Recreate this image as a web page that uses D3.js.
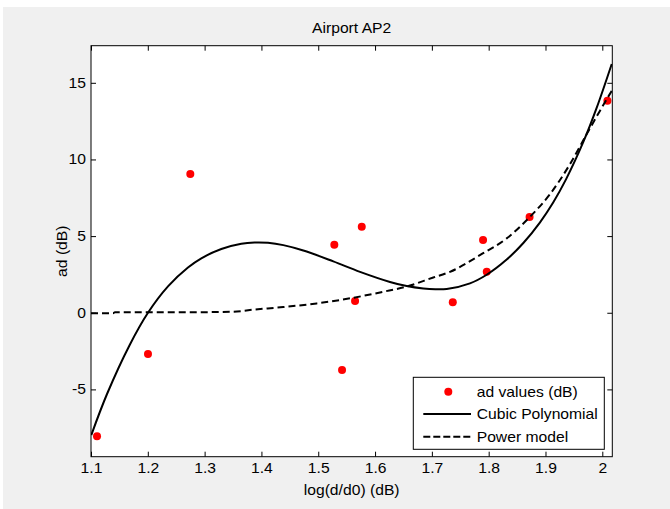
<!DOCTYPE html>
<html>
<head>
<meta charset="utf-8">
<script src="https://cdn.jsdelivr.net/npm/d3@7"></script>
<style>
  html, body { margin: 0; padding: 0; background: #ffffff; }
  svg { display: block; }
  text { font-family: "Liberation Sans", Arial, Helvetica, sans-serif; fill: #000; }
</style>
</head>
<body>
<script>
// ---- data ----
const pointX = [1.1106, 1.2003, 1.2748, 1.5283, 1.5419, 1.5648, 1.5766, 1.7368, 1.7901, 1.7966, 1.8720, 2.0090];
const pointY = [-8.06, -2.69, 9.05, 4.44, -3.74, 0.76, 5.61, 0.68, 4.74, 2.67, 6.24, 13.83];

const cubicX = [1.1005, 1.1282, 1.1681, 1.2003, 1.2355, 1.2707, 1.2942, 1.3294, 1.3646, 1.3880, 1.4116, 1.4385, 1.4737, 1.5265, 1.5735, 1.6263, 1.6557, 1.6849, 1.7060, 1.7261, 1.7671, 1.7965, 1.8317, 1.8610, 1.8904, 1.9138, 1.9361, 1.9666, 1.9902, 2.0166];
const cubicY = [-7.98, -5.30, -2.10, 0.00, 1.72, 2.95, 3.55, 4.16, 4.50, 4.58, 4.56, 4.41, 4.06, 3.35, 2.67, 2.01, 1.74, 1.58, 1.53, 1.55, 1.92, 2.48, 3.47, 4.55, 5.90, 7.21, 8.70, 11.14, 13.38, 16.23];

const powerX = [1.1000, 1.1387, 1.1422, 1.2500, 1.3464, 1.3882, 1.4385, 1.4973, 1.5559, 1.6145, 1.6557, 1.7025, 1.7319, 1.7895, 1.8317, 1.8722, 1.9080, 1.9432, 1.9726, 1.9960, 2.0166];
const powerY = [-0.04, -0.04, 0.03, 0.03, 0.06, 0.21, 0.37, 0.61, 0.94, 1.37, 1.71, 2.30, 2.67, 3.87, 4.85, 6.24, 7.74, 9.70, 11.66, 13.18, 14.48];

const xTicks = [1.1, 1.2, 1.3, 1.4, 1.5, 1.6, 1.7, 1.8, 1.9, 2.0];
const xTickLabels = ["1.1", "1.2", "1.3", "1.4", "1.5", "1.6", "1.7", "1.8", "1.9", "2"];
const yTicks = [-5, 0, 5, 10, 15];
const yTickLabels = ["-5", "0", "5", "10", "15"];

const titleText = "Airport AP2";
const xLabelText = "log(d/d0) (dB)";
const yLabelText = "ad (dB)";
const legendLabels = ["ad values (dB)", "Cubic Polynomial", "Power model"];

// ---- layout ----
const W = 670, H = 509;
const L = 91, R = 612.3, T = 45.7, B = 456.7;
const FS = 14, SX = 1.12;

const x = d3.scaleLinear().domain([1.1, 2.0176]).range([L, R]);
const y = d3.scaleLinear().domain([-9.39, 17.42]).range([B, T]);

const svg = d3.select("body").append("svg").attr("width", W).attr("height", H);

// figure background
svg.append("rect").attr("x", 3).attr("y", 7).attr("width", W - 3).attr("height", H - 7).attr("fill", "#f0f0f0");
// axes background
svg.append("rect").attr("x", L).attr("y", T).attr("width", R - L).attr("height", B - T).attr("fill", "#ffffff");

function addText(px, py, str, anchor, rotate) {
  const g = svg.append("g").attr("transform", `translate(${px},${py})` + (rotate ? ` rotate(${rotate})` : "") + ` scale(${SX},1)`);
  g.append("text").attr("text-anchor", anchor || "start").attr("font-size", FS).text(str);
  return g;
}

// axes ticks
const axB = svg.append("g").attr("transform", `translate(0,${B})`)
  .call(d3.axisBottom(x).tickValues(xTicks).tickFormat((d, i) => xTickLabels[i]).tickSize(-5).tickSizeOuter(0).tickPadding(6));
const axT = svg.append("g").attr("transform", `translate(0,${T})`)
  .call(d3.axisTop(x).tickValues(xTicks).tickFormat("").tickSize(-5).tickSizeOuter(0));
const axL = svg.append("g").attr("transform", `translate(${L},0)`)
  .call(d3.axisLeft(y).tickValues(yTicks).tickFormat((d, i) => yTickLabels[i]).tickSize(-5).tickSizeOuter(0).tickPadding(5));
const axR = svg.append("g").attr("transform", `translate(${R},0)`)
  .call(d3.axisRight(y).tickValues(yTicks).tickFormat("").tickSize(-5).tickSizeOuter(0));
[axB, axT, axL, axR].forEach(a => {
  a.select(".domain").remove();
  a.selectAll("line").attr("stroke", "#000").attr("stroke-width", 1);
  a.selectAll("text").attr("font-size", FS).attr("font-family", "Liberation Sans, Arial, sans-serif").attr("fill", "#000");
});
axB.selectAll("text").attr("transform", `scale(${SX},1)`);
axL.selectAll("text").attr("transform", `scale(${SX},1)`).attr("x", -5 / SX);

// clip
svg.append("clipPath").attr("id", "clip").append("rect").attr("x", L).attr("y", T).attr("width", R - L).attr("height", B - T);
const plot = svg.append("g").attr("clip-path", "url(#clip)");

// points
plot.selectAll("circle.pt").data(pointX.map((d, i) => [d, pointY[i]])).enter().append("circle")
  .attr("class", "pt").attr("cx", d => x(d[0])).attr("cy", d => y(d[1])).attr("r", 4).attr("fill", "#ff0000");

// curves
plot.append("path").datum(cubicX.map((d, i) => [d, cubicY[i]]))
  .attr("d", d3.line().x(d => x(d[0])).y(d => y(d[1])).curve(d3.curveCatmullRom.alpha(0.5)))
  .attr("fill", "none").attr("stroke", "#000").attr("stroke-width", 2);
plot.append("path").datum(powerX.map((d, i) => [d, powerY[i]]))
  .attr("d", d3.line().x(d => x(d[0])).y(d => y(d[1])).curve(d3.curveMonotoneX))
  .attr("fill", "none").attr("stroke", "#000").attr("stroke-width", 2).attr("stroke-dasharray", "7,4");

// axes box
svg.append("rect").attr("x", L).attr("y", T).attr("width", R - L).attr("height", B - T).attr("fill", "none").attr("stroke", "#000").attr("stroke-width", 1);

// labels
addText((L + R) / 2, 33, titleText, "middle");
addText((L + R) / 2, 495, xLabelText, "middle");
addText(67, (T + B) / 2, yLabelText, "middle", -90);

// legend
const lgX = 413.3, lgY = 377.3, lgW = 191, lgH = 72;
svg.append("rect").attr("x", lgX).attr("y", lgY).attr("width", lgW).attr("height", lgH).attr("fill", "#fff").attr("stroke", "#000").attr("stroke-width", 1);
const rows = [391.7, 414, 436.7];
svg.append("circle").attr("cx", 448.3).attr("cy", rows[0]).attr("r", 4).attr("fill", "#ff0000");
svg.append("line").attr("x1", 423.3).attr("x2", 471).attr("y1", rows[1]).attr("y2", rows[1]).attr("stroke", "#000").attr("stroke-width", 2);
svg.append("line").attr("x1", 423.3).attr("x2", 471).attr("y1", rows[2]).attr("y2", rows[2]).attr("stroke", "#000").attr("stroke-width", 2).attr("stroke-dasharray", "7,3");
legendLabels.forEach((t, i) => addText(476.7, rows[i] + 5, t, "start"));
</script>
</body>
</html>
